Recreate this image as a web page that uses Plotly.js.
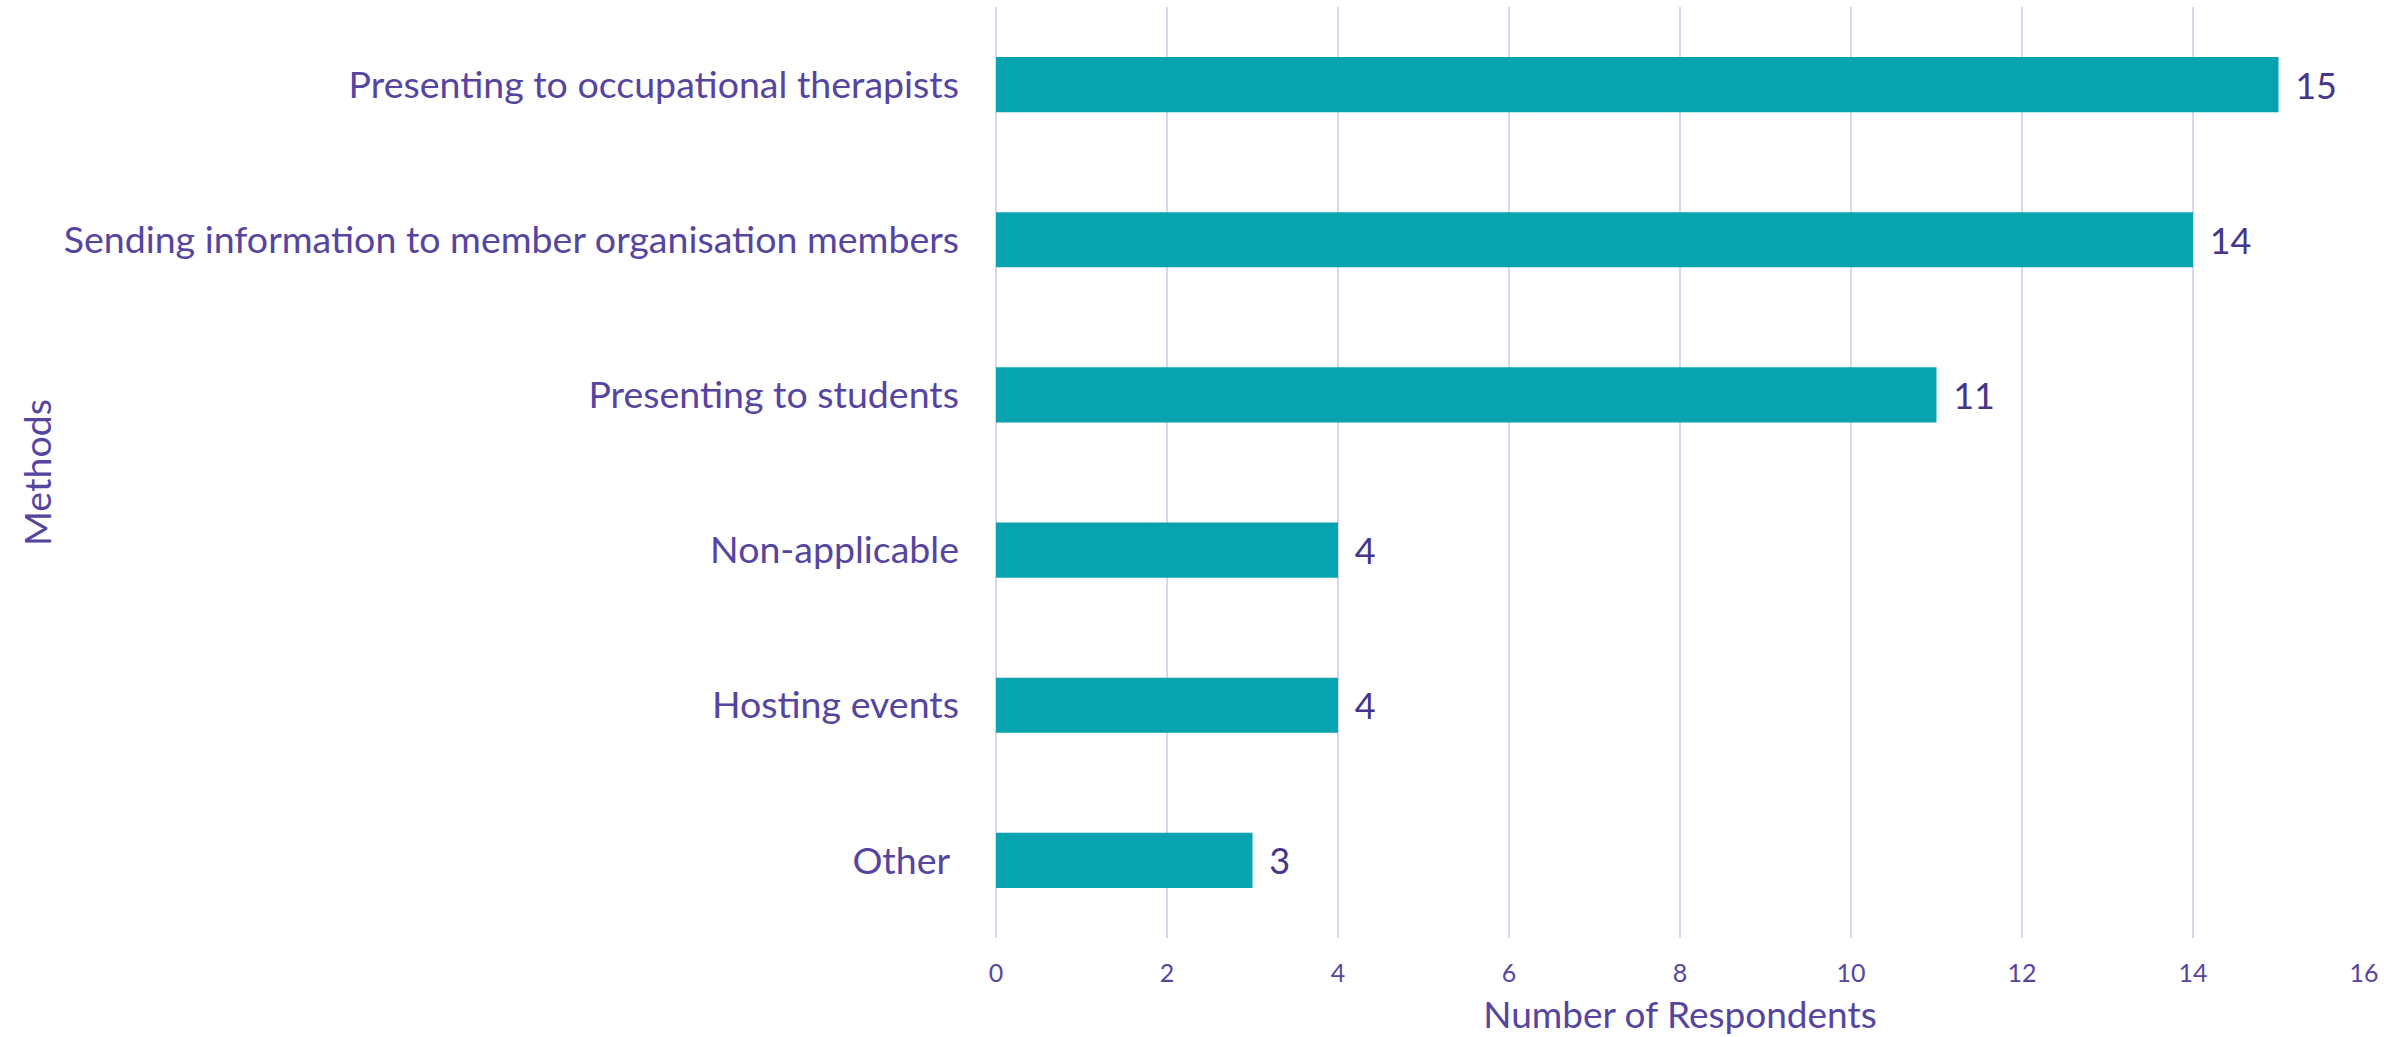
<!DOCTYPE html>
<html>
<head>
<meta charset="utf-8">
<script src="https://cdn.plot.ly/plotly-3.0.1.min.js"></script>
<style>html,body{margin:0;padding:0;background:#fff;}#chart{width:2384px;height:1037px;}</style>
</head>
<body>
<div id="chart"></div>
<script>
const categories = [
  "Presenting to occupational therapists",
  "Sending information to member organisation members",
  "Presenting to students",
  "Non-applicable",
  "Hosting events",
  "Other\u00a0"
];
const respondents = [15, 14, 11, 4, 4, 3];
const xTickValues = [0, 2, 4, 6, 8, 10, 12, 14, 16];

const fontFamily = "Lato, 'Open Sans', sans-serif";
const purple = "#5645A0";
const darkPurple = "#463689";
const grid = "#DAD6EE";

const trace = {
  type: "bar",
  orientation: "h",
  y: categories,
  x: respondents,
  marker: {color: "#07A4B0", line: {width: 0}},
  width: 0.355,
  text: respondents.map(v => "\u00a0\u2009" + v),
  textposition: "outside",
  textfont: {family: fontFamily, size: 36, color: darkPurple},
  cliponaxis: false,
  hoverinfo: "x+y"
};

const layout = {
  width: 2384,
  height: 1037,
  margin: {l: 996, r: 20, t: 7, b: 99},
  paper_bgcolor: "#ffffff",
  plot_bgcolor: "#ffffff",
  showlegend: false,
  font: {family: fontFamily, color: purple},
  xaxis: {
    range: [0, 16],
    tickvals: xTickValues,
    ticktext: xTickValues.map(String),
    showgrid: true,
    gridcolor: grid,
    gridwidth: 2,
    zeroline: true,
    zerolinecolor: grid,
    zerolinewidth: 2,
    showline: false,
    ticks: "",
    ticklabelstandoff: 18,
    tickfont: {family: fontFamily, size: 25, color: purple},
    title: {text: "Number of Respondents", font: {family: fontFamily, size: 37, color: purple}, standoff: 16}
  },
  yaxis: {
    type: "category",
    autorange: "reversed",
    showgrid: false,
    zeroline: false,
    showline: false,
    ticks: "",
    ticklabelstandoff: 36,
    tickfont: {family: fontFamily, size: 37.5, color: purple},
    title: {text: "Methods", font: {family: fontFamily, size: 37.5, color: purple}, standoff: 0}
  }
};

Plotly.newPlot("chart", [trace], layout, {displayModeBar: false, staticPlot: true});
</script>
</body>
</html>
